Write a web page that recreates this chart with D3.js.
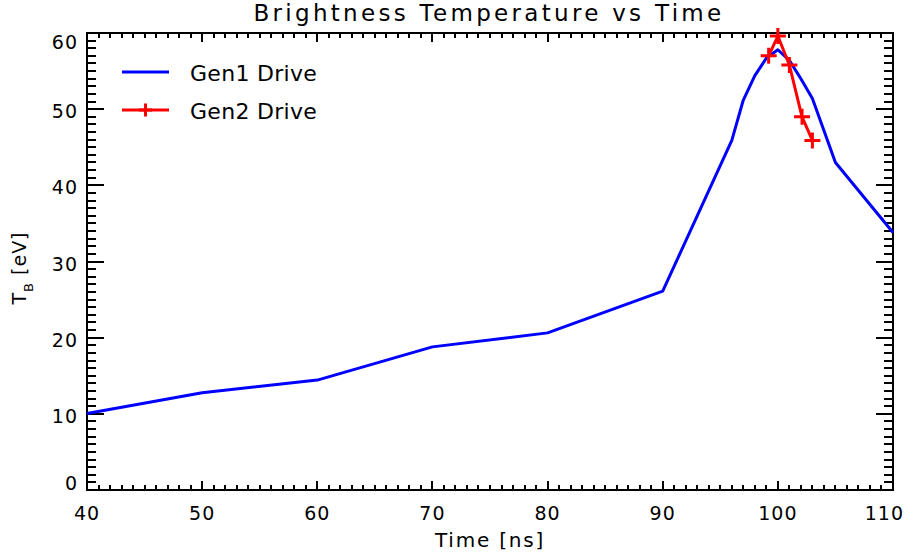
<!DOCTYPE html>
<html>
<head>
<meta charset="utf-8">
<script src="https://cdn.jsdelivr.net/npm/d3@7"></script>
<style>
  html, body { margin: 0; padding: 0; background: #fff; }
  svg { display: block; font-family: "DejaVu Sans", "Liberation Sans", sans-serif; }
  .tick-label { font-size: 19px; letter-spacing: 1px; fill: #000; }
</style>
</head>
<body>
<svg id="chart" width="918" height="558"></svg>
<script>
// Gen1 drive: brightness temperature (eV) against time (ns)
const gen1Time = [40, 50, 60, 70, 80, 90, 96, 97, 98, 99, 100, 101, 102, 103, 105, 110];
const gen1Temp = [10.05, 12.76, 14.43, 18.79, 20.63, 26.1, 45.9, 51.2, 54.4, 56.7, 57.8, 56.4, 54.0, 51.4, 43.0, 33.8];

// Gen2 drive
const gen2Time = [99.2, 100, 101, 102.1, 103];
const gen2Temp = [57.0, 59.6, 55.8, 49.0, 45.9];

const xTicks = [40, 50, 60, 70, 80, 90, 100, 110];
const yTicks = [0, 10, 20, 30, 40, 50, 60];

const seriesNames = ["Gen1 Drive", "Gen2 Drive"];
const seriesColors = ["#0000ff", "#ff0000"];

const W = 918, H = 558;
const margin = { left: 87, right: 25, top: 33, bottom: 68 };
const x0 = margin.left, x1 = W - margin.right;
const y0 = H - margin.bottom, y1 = margin.top;

const svg = d3.select("#chart");

const x = d3.scaleLinear().domain([40, 110]).range([x0, x1]);
const y = d3.scaleLinear().domain([0, 60]).range([y0, y1]);

// minor ticks every 1 unit on both axes
const xMinor = d3.range(40, 110.001, 1).filter(v => !xTicks.includes(v));
const yMinor = d3.range(0, 60.001, 1).filter(v => !yTicks.includes(v));

const axisG = svg.append("g")
  .attr("stroke", "#000")
  .attr("stroke-width", 2)
  .attr("shape-rendering", "crispEdges");

// x ticks (bottom pointing up, top pointing down)
const xMajLen = 9, xMinLen = 5, yMajLen = 17, yMinLen = 9;
[[xTicks, xMajLen], [xMinor, xMinLen]].forEach(([vals, len]) => {
  vals.forEach(v => {
    axisG.append("line").attr("x1", x(v)).attr("x2", x(v)).attr("y1", y0).attr("y2", y0 - len);
    axisG.append("line").attr("x1", x(v)).attr("x2", x(v)).attr("y1", y1).attr("y2", y1 + len);
  });
});
[[yTicks, yMajLen], [yMinor, yMinLen]].forEach(([vals, len]) => {
  vals.forEach(v => {
    axisG.append("line").attr("x1", x0).attr("x2", x0 + len).attr("y1", y(v)).attr("y2", y(v));
    axisG.append("line").attr("x1", x1).attr("x2", x1 - len).attr("y1", y(v)).attr("y2", y(v));
  });
});

// frame
axisG.append("rect")
  .attr("x", x0).attr("y", y1)
  .attr("width", x1 - x0).attr("height", y0 - y1)
  .attr("fill", "none");

// x tick labels
xTicks.forEach(v => {
  const t = svg.append("text")
    .attr("class", "tick-label")
    .attr("y", y0 + 30)
    .attr("text-anchor", "middle")
    .text(v);
  let cx = x(v);
  t.attr("x", cx);
  const bb = t.node().getBBox();
  if (bb.x + bb.width > W - 14) t.attr("x", cx - (bb.x + bb.width - (W - 14)));
});

// y tick labels
yTicks.forEach(v => {
  let cy = y(v) + 2;
  cy = Math.max(y1 + 9, Math.min(y0 - 7, cy));
  svg.append("text")
    .attr("class", "tick-label")
    .attr("x", x0 - 9)
    .attr("y", cy + 7)
    .attr("text-anchor", "end")
    .text(v);
});

// title
svg.append("text")
  .attr("x", (x0 + x1) / 2 - 1)
  .attr("y", 21)
  .attr("text-anchor", "middle")
  .attr("font-size", 23)
  .attr("letter-spacing", 3.3)
  .text("Brightness Temperature vs Time");

// x axis title
svg.append("text")
  .attr("x", (x0 + x1) / 2)
  .attr("y", 547)
  .attr("text-anchor", "middle")
  .attr("font-size", 20)
  .attr("letter-spacing", 1.8)
  .text("Time [ns]");

// y axis title with subscript
const yl = svg.append("text")
  .attr("transform", `translate(26, 268) rotate(-90)`)
  .attr("text-anchor", "middle")
  .attr("font-size", 19)
  .attr("letter-spacing", 1);
yl.append("tspan").text("T");
yl.append("tspan").attr("font-size", 13).attr("dy", 7).text("B");
yl.append("tspan").attr("dy", -7).text(" [eV]");

// data lines
const line = d3.line().x(d => x(d[0])).y(d => y(d[1]));
const gen1 = gen1Time.map((t, i) => [t, gen1Temp[i]]);
const gen2 = gen2Time.map((t, i) => [t, gen2Temp[i]]);

const plotG = svg.append("g");
plotG.append("path")
  .datum(gen1)
  .attr("d", line)
  .attr("fill", "none")
  .attr("stroke", seriesColors[0])
  .attr("stroke-width", 3)
  .attr("stroke-linejoin", "round");

plotG.append("path")
  .datum(gen2)
  .attr("d", line)
  .attr("fill", "none")
  .attr("stroke", seriesColors[1])
  .attr("stroke-width", 3)
  .attr("stroke-linejoin", "round");

const plus = (g, cx, cy, s, color) => {
  g.append("path")
    .attr("d", `M${cx - s / 2},${cy}H${cx + s / 2}M${cx},${cy - s / 2}V${cy + s / 2}`)
    .attr("stroke", color)
    .attr("stroke-width", 3)
    .attr("fill", "none");
};
gen2.forEach(d => plus(plotG, x(d[0]), y(d[1]), 16, seriesColors[1]));

// legend
const legend = svg.append("g");
const legY = [72, 110];
seriesNames.forEach((name, i) => {
  legend.append("line")
    .attr("x1", 122).attr("x2", 169)
    .attr("y1", legY[i]).attr("y2", legY[i])
    .attr("stroke", seriesColors[i])
    .attr("stroke-width", 3);
  if (i === 1) plus(legend, 145.5, legY[i], 13, seriesColors[i]);
  legend.append("text")
    .attr("x", 190)
    .attr("y", legY[i] + 9)
    .attr("font-size", 22)
    .attr("letter-spacing", 0.3)
    .text(name);
});
</script>
</body>
</html>
